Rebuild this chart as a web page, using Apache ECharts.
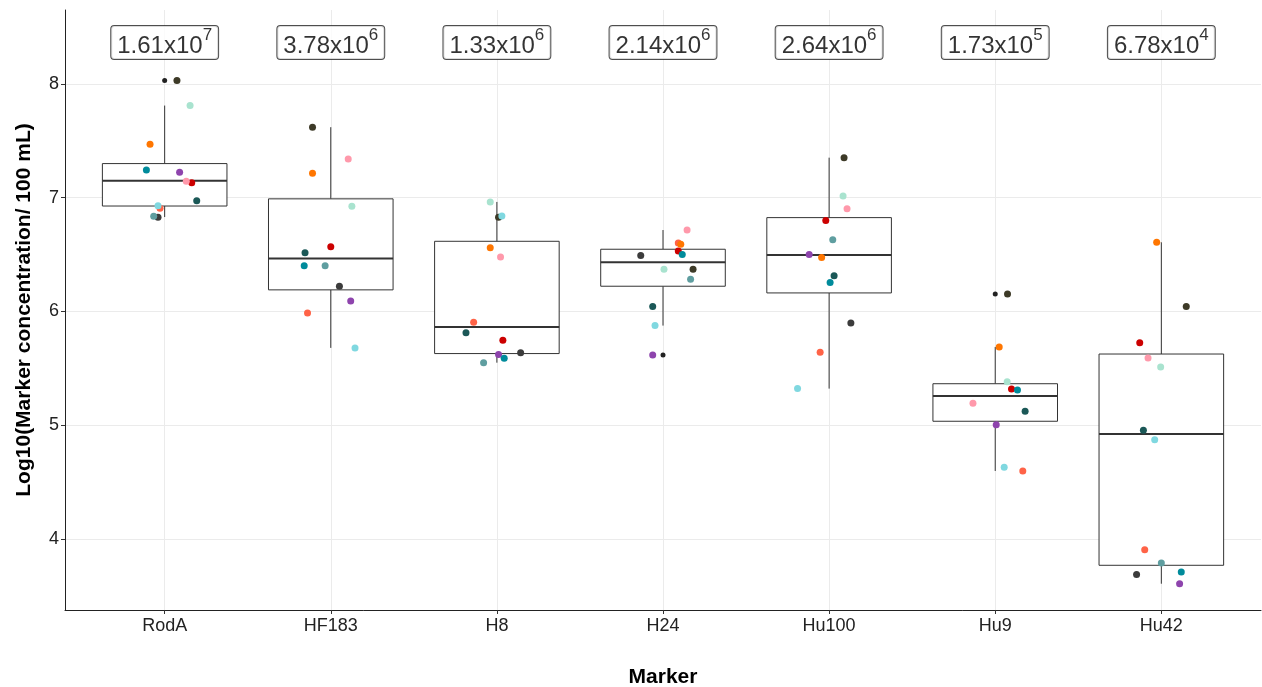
<!DOCTYPE html>
<html>
<head>
<meta charset="utf-8">
<script src="https://cdn.jsdelivr.net/npm/echarts@6/dist/echarts.min.js"></script>
<style>
html,body{margin:0;padding:0;background:#fff;}
#chart{width:1262px;height:687px;}
</style>
</head>
<body>
<div id="chart"></div>
<script>
// ---------- DATA ----------
const markers = ['RodA', 'HF183', 'H8', 'H24', 'Hu100', 'Hu9', 'Hu42'];
const yTicks = [4, 5, 6, 7, 8];

// Box statistics: [lower whisker, Q1, median, Q3, upper whisker]
const boxLow  = [6.83, 5.68, 5.55, 5.876, 5.322, 4.598, 3.607];
const boxQ1   = [6.927, 6.19, 5.63, 6.222, 6.163, 5.035, 3.769];
const boxMed  = [7.15, 6.465, 5.864, 6.433, 6.497, 5.257, 4.923];
const boxQ3   = [7.30, 6.99, 6.617, 6.547, 6.825, 5.365, 5.626];
const boxHigh = [7.81, 7.62, 6.963, 6.716, 7.352, 5.688, 6.608];

// Outliers drawn by the boxplot (marker index, value)
const outlierMarker = [0, 3, 5];
const outlierValue  = [8.03, 5.618, 6.154];

// Geometric-mean labels: mantissa x 10^exponent
const labelMantissa = ['1.61', '3.78', '1.33', '2.14', '2.64', '1.73', '6.78'];
const labelExponent = ['7', '6', '6', '6', '6', '5', '4'];

// Sample values per marker (order = markers); null = not visible
const sDarkGray  = [6.828, 6.222, 5.638, 6.491, 5.899, null, 3.687];
const sDarkOlive = [8.03, 7.619, 6.828, 6.371, 7.352, 6.154, 6.043];
const sMint      = [7.81, 6.925, 6.963, 6.371, 7.015, 5.383, 5.512];
const sOrange    = [7.47, 7.215, 6.561, 6.591, 6.474, 5.688, 6.608];
const sTealBlue  = [7.244, 6.403, 5.589, 6.50, 6.254, 5.31, 3.71];
const sPurple    = [7.224, 6.092, 5.621, 5.618, 6.50, 5.005, 3.607];
const sPink      = [7.145, 7.341, 6.479, 6.716, 6.904, 5.193, 5.591];
const sRed       = [7.132, 6.57, 5.747, 6.532, 6.80, 5.319, 5.726];
const sDarkTeal  = [6.974, 6.517, 5.814, 6.043, 6.315, 5.123, 4.955];
const sLightCyan = [6.93, 5.679, 6.84, 5.876, 5.322, 4.63, 4.873];
const sTomato    = [6.907, 5.987, 5.905, 6.602, 5.641, 4.598, 3.906];
const sGrayTeal  = [6.837, 6.403, 5.55, 6.283, 6.631, null, 3.789];

// Horizontal jitter (category units)
const jDarkGray  = [-0.04, 0.052, 0.143, -0.134, 0.131, 0, -0.149];
const jDarkOlive = [0.074, -0.11, 0.01, 0.181, 0.09, 0.074, 0.15];
const jMint      = [0.153, 0.127, -0.04, 0.006, 0.084, 0.072, -0.004];
const jOrange    = [-0.088, -0.11, -0.04, 0.107, -0.045, 0.024, -0.028];
const jTealBlue  = [-0.11, -0.16, 0.044, 0.116, 0.006, 0.134, 0.12];
const jPurple    = [0.09, 0.12, 0.01, -0.062, -0.12, 0.006, 0.11];
const jPink      = [0.13, 0.105, 0.022, 0.145, 0.108, -0.134, -0.08];
const jRed       = [0.163, 0.0, 0.036, 0.092, -0.02, 0.098, -0.13];
const jDarkTeal  = [0.193, -0.155, -0.186, -0.062, 0.03, 0.18, -0.108];
const jLightCyan = [-0.04, 0.146, 0.03, -0.048, -0.19, 0.054, -0.04];
const jTomato    = [-0.028, -0.14, -0.14, 0.092, -0.054, 0.166, -0.1];
const jGrayTeal  = [-0.066, -0.034, -0.08, 0.166, 0.022, 0, 0.0];

const samples = [
  {name: 'DarkGray',  color: '#3c3c3c', v: sDarkGray,  j: jDarkGray},
  {name: 'DarkOlive', color: '#3d3a27', v: sDarkOlive, j: jDarkOlive},
  {name: 'GrayTeal',  color: '#5f9ea0', v: sGrayTeal,  j: jGrayTeal},
  {name: 'Tomato',    color: '#ff6347', v: sTomato,    j: jTomato},
  {name: 'LightCyan', color: '#80d8e0', v: sLightCyan, j: jLightCyan},
  {name: 'DarkTeal',  color: '#1b5857', v: sDarkTeal,  j: jDarkTeal},
  {name: 'Red',       color: '#cc0000', v: sRed,       j: jRed},
  {name: 'Pink',      color: '#ff99ab', v: sPink,      j: jPink},
  {name: 'Purple',    color: '#8e44ad', v: sPurple,    j: jPurple},
  {name: 'TealBlue',  color: '#008b9b', v: sTealBlue,  j: jTealBlue},
  {name: 'Orange',    color: '#ff7600', v: sOrange,    j: jOrange},
  {name: 'Mint',      color: '#a9e3cf', v: sMint,      j: jMint}
];

// ---------- CHART ----------
const FONT = '"Liberation Sans", Arial, sans-serif';
const chart = echarts.init(document.getElementById('chart'), null, {renderer: 'canvas'});

const boxData = markers.map((m, i) => [i, boxLow[i], boxQ1[i], boxMed[i], boxQ3[i], boxHigh[i]]);

function renderBox(params, api) {
  const x = api.value(0);
  const pLow = api.coord([x, api.value(1)]);
  const pQ1 = api.coord([x, api.value(2)]);
  const pMed = api.coord([x, api.value(3)]);
  const pQ3 = api.coord([x, api.value(4)]);
  const pHigh = api.coord([x, api.value(5)]);
  const half = api.size([0.75, 0])[0] / 2;
  const stroke = '#333333';
  return {
    type: 'group',
    children: [
      {type: 'line', shape: {x1: pLow[0], y1: pLow[1], x2: pQ1[0], y2: pQ1[1]}, style: {stroke: stroke, lineWidth: 1}},
      {type: 'line', shape: {x1: pQ3[0], y1: pQ3[1], x2: pHigh[0], y2: pHigh[1]}, style: {stroke: stroke, lineWidth: 1}},
      {type: 'rect', shape: {x: pQ3[0] - half, y: pQ3[1], width: half * 2, height: pQ1[1] - pQ3[1]}, style: {fill: '#ffffff', stroke: stroke, lineWidth: 1}},
      {type: 'line', shape: {x1: pMed[0] - half, y1: pMed[1], x2: pMed[0] + half, y2: pMed[1]}, style: {stroke: stroke, lineWidth: 2}}
    ]
  };
}

const series = [];
series.push({
  type: 'custom',
  name: 'box',
  renderItem: renderBox,
  data: boxData,
  encode: {x: 0, y: [1, 2, 3, 4, 5]},
  z: 2,
  silent: true
});
series.push({
  type: 'scatter',
  name: 'outliers',
  data: outlierMarker.map((m, k) => [m, outlierValue[k]]),
  symbolSize: 5,
  itemStyle: {color: '#222222', opacity: 1},
  z: 3,
  silent: true
});
samples.forEach(s => {
  const d = [];
  s.v.forEach((val, i) => { if (val !== null) d.push([i + s.j[i], val]); });
  series.push({
    type: 'scatter',
    name: s.name,
    data: d,
    symbolSize: 7,
    itemStyle: {color: s.color, opacity: 1},
    z: 4,
    silent: true
  });
});
series.push({
  type: 'scatter',
  name: 'labels',
  data: markers.map((m, i) => [i, 8.365]),
  symbolSize: 0,
  z: 5,
  silent: true,
  label: {
    show: true,
    position: 'inside',
    formatter: p => '{m|' + labelMantissa[p.dataIndex] + 'x10}{e|' + labelExponent[p.dataIndex] + '}',
    backgroundColor: '#ffffff',
    borderColor: '#222222',
    borderWidth: 1,
    borderRadius: 3,
    padding: [1, 6, 1, 6],
    rich: {
      m: {fontSize: 24, fontFamily: FONT, color: '#000', lineHeight: 31, verticalAlign: 'bottom', padding: [6, 0, 0, 0]},
      e: {fontSize: 17, fontFamily: FONT, color: '#000', lineHeight: 15, verticalAlign: 'top'}
    }
  }
});

chart.setOption({
  animation: false,
  backgroundColor: '#ffffff',
  grid: {left: 65, right: 1, top: 10, bottom: 77, outerBoundsMode: 'none', containLabel: false},
  xAxis: {
    type: 'value',
    min: -0.6,
    max: 6.6,
    name: 'Marker',
    nameLocation: 'middle',
    nameGap: 57,
    nameTextStyle: {fontFamily: FONT, fontSize: 21, fontWeight: 'bold', color: '#000'},
    axisLine: {show: true, onZero: false, lineStyle: {color: '#222', width: 1}},
    axisTick: {show: true, length: 4, lineStyle: {color: '#333'}, customValues: markers.map((m, i) => i)},
    axisLabel: {
      customValues: markers.map((m, i) => i),
      formatter: v => markers[Math.round(v)] || '',
      fontFamily: FONT, fontSize: 18, color: '#222', margin: 7
    },
    splitLine: {show: true, lineStyle: {color: '#ebebeb', width: 1}}
  },
  yAxis: {
    type: 'value',
    min: 3.376,
    max: 8.65,
    name: 'Log10(Marker concentration/ 100 mL)',
    nameLocation: 'middle',
    nameGap: 30,
    nameTextStyle: {fontFamily: FONT, fontSize: 21, fontWeight: 'bold', color: '#000'},
    axisLine: {show: true, onZero: false, lineStyle: {color: '#222', width: 1}},
    axisTick: {show: true, length: 4, lineStyle: {color: '#333'}, customValues: yTicks},
    axisLabel: {customValues: yTicks, fontFamily: FONT, fontSize: 18, color: '#222', margin: 6},
    splitLine: {show: true, lineStyle: {color: '#ebebeb', width: 1}}
  },
  series: series
});
</script>
</body>
</html>
